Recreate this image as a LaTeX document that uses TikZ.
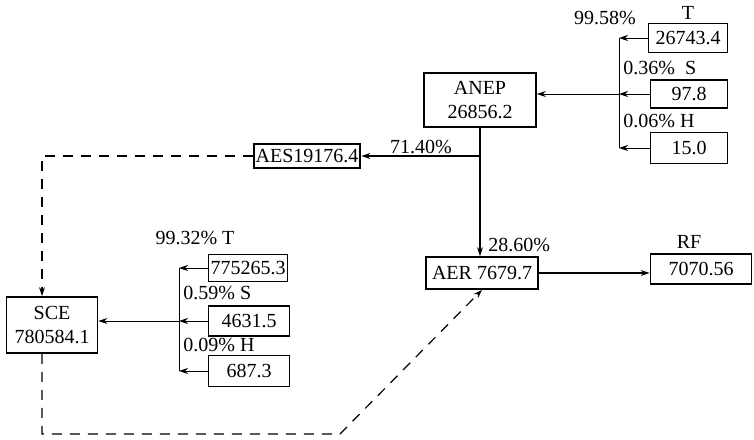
\documentclass[tikz,border=0pt]{standalone}
\usepackage{fontspec}
\setmainfont{Liberation Serif}
\usetikzlibrary{arrows.meta, positioning}

\begin{document}
\begin{tikzpicture}[
        x=0.5pt, y=-0.5pt,
        >={Stealth[length=4.5pt, width=3pt]},
        every node/.style={font=\normalsize},
        block/.style={draw, rectangle, line width=0.9pt, align=center, inner sep=1pt},
        lbl/.style={inner sep=1pt},
        flow/.style={->, line width=0.5pt},
        mainflow/.style={->, line width=1pt},
        loopline/.style={->, line width=0.6pt, dash pattern=on 5pt off 4pt}
    ]
        \useasboundingbox (0,0) rectangle (754,439);

        % Nodes
        \node [block, minimum width=56pt, minimum height=27pt] (anep) at (480,100) {ANEP\\26856.2};
        \node [block, minimum width=52pt, minimum height=12pt] (aes) at (307,156) {AES19176.4};
        \node [block, minimum width=56pt, minimum height=16pt] (aer) at (482,273) {AER 7679.7};
        \node [block, minimum width=50.5pt, minimum height=15pt] (rf) at (701,269) {7070.56};
        \node [block, minimum width=45.5pt, minimum height=28pt] (sce) at (52,325) {SCE\\780584.1};

        \node [block, minimum width=39.5pt, minimum height=14.5pt] (t1) at (688,38) {26743.4};
        \node [block, minimum width=38.5pt, minimum height=14pt] (s1) at (689,94) {97.8};
        \node [block, minimum width=38.5pt, minimum height=15.5pt] (h1) at (689,148) {15.0};

        \node [block, minimum width=39.5pt, minimum height=13.5pt] (t2) at (248,268) {775265.3};
        \node [block, minimum width=40.5pt, minimum height=15pt] (s2) at (249,321) {4631.5};
        \node [block, minimum width=40.5pt, minimum height=15.5pt] (h2) at (249,371) {687.3};

        \coordinate (jr) at (619,94);
        \coordinate (jl) at (179,321);
        \coordinate (lt) at (42,156);
        \coordinate (lb) at (42,434);
        \coordinate (lc) at (340,434);

        % Labels
        \node [lbl, above=0.5pt of t1] (lt1) {T};
        \node [lbl] (pt1) at (605,18) {99.58\%};
        \node [lbl, anchor=west] (ps1) at (621,68) {0.36\%~~S};
        \node [lbl, anchor=west] (ph1) at (621,121) {0.06\%~H};
        \node [lbl] (pt2) at (195,238) {99.32\%~T};
        \node [lbl, anchor=west] (ps2) at (181,293) {0.59\%~S};
        \node [lbl, anchor=west] (ph2) at (181,345) {0.09\%~H};
        \node [lbl] (paes) at (421,147) {71.40\%};
        \node [lbl, anchor=west] (paer) at (486,245) {28.60\%};
        \node [lbl, above=1pt of rf, xshift=-6pt] (lrf) {RF};

        % Connections
        \draw [flow] (t1.west) -- (t1.west -| jr);
        \draw [flow] (s1.west) -- (s1.west -| jr);
        \draw [flow] (h1.west) -- (h1.west -| jr);
        \draw [line width=0.5pt] (t1.west -| jr) -- (h1.west -| jr);
        \draw [flow] (jr) -- (anep.east |- jr);

        \draw [flow] (t2.west) -- (t2.west -| jl);
        \draw [flow] (s2.west) -- (s2.west -| jl);
        \draw [flow] (h2.west) -- (h2.west -| jl);
        \draw [line width=0.5pt] (t2.west -| jl) -- (h2.west -| jl);
        \draw [flow] (jl) -- (sce.east |- jl);

        \draw [mainflow] (anep.south) -- (anep.south |- aer.north);
        \draw [mainflow] (anep.south |- aes.east) -- (aes.east);
        \draw [mainflow] (aer.east) -- (aer.east -| rf.west);

        % Dashed loop
        \draw [loopline] (aes.west) -- (lt) -- (lt |- sce.north);
        \draw [loopline] (lt |- sce.south) -- (lb) -- (lc) -- (aer.south);
    \end{tikzpicture}
\end{document}
